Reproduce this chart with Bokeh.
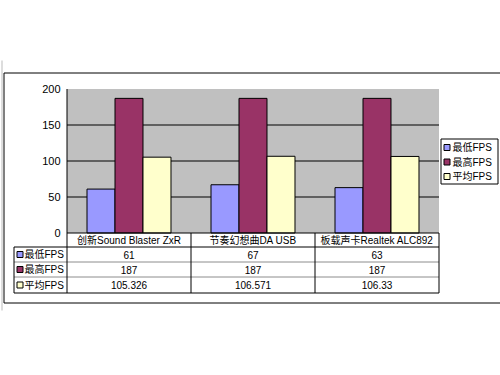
from bokeh.plotting import figure
from bokeh.models import Range1d
from bokeh.core.properties import value
from bokeh.embed import file_html
from bokeh.resources import INLINE

# ---------------- data ----------------
categories = ["创新Sound Blaster ZxR", "节奏幻想曲DA USB", "板载声卡Realtek ALC892"]
series = ["最低FPS", "最高FPS", "平均FPS"]
min_fps = [61, 67, 63]
max_fps = [187, 187, 187]
avg_fps = [105.326, 106.571, 106.33]
y_ticks = [0, 50, 100, 150, 200]
grid_ticks = [50, 100, 150]
colors = ["#9999FF", "#993366", "#FFFFCC"]
series_values = [min_fps, max_fps, avg_fps]

# ---------------- layout (pixels) ----------------
W, H = 500, 375
PX_LEFT = 66.5      # plot-area left edge
CAT_W = 124.0       # pixels per category
PX_ZERO = 232.5     # pixel row of value 0
PX_PER_UNIT = 0.72  # pixels per FPS unit


def xd(px):
    return (px - PX_LEFT) / CAT_W


def yd(py):
    return (PX_ZERO - py) / PX_PER_UNIT


FONT = value("Liberation Sans, Noto Sans CJK SC, sans-serif")
FS = "10px"

p = figure(width=W, height=H, output_backend="svg", toolbar_location=None,
           x_range=Range1d(xd(0), xd(W)), y_range=Range1d(yd(H), yd(0)),
           min_border=0, min_border_left=0, min_border_right=0,
           min_border_top=0, min_border_bottom=0)
p.axis.visible = False
p.grid.visible = False
p.outline_line_color = None
p.background_fill_color = "white"
p.border_fill_color = "white"

n = len(categories)
ymax = y_ticks[-1]

# plot area background
p.quad(left=[0], right=[n], bottom=[0], top=[ymax], fill_color="#C0C0C0", line_color=None)

# gridlines
p.segment(x0=[0] * len(grid_ticks), x1=[n] * len(grid_ticks), y0=grid_ticks, y1=grid_ticks,
          line_color="black", line_width=1)

# bars
bw = 0.2258
for i, (s, vals, c) in enumerate(zip(series, series_values, colors)):
    xs = [j + 0.5 + (i - 1) * bw for j in range(n)]
    p.vbar(x=xs, width=bw, bottom=0, top=vals, fill_color=c, line_color="black", line_width=1)

# y axis line and tick labels
p.segment(x0=[0], x1=[0], y0=[0], y1=[ymax], line_color="black", line_width=1)
p.text(x=[xd(60)] * len(y_ticks), y=y_ticks, text=[str(t) for t in y_ticks],
       text_font=FONT, text_font_size="11px", text_align="right", text_baseline="middle",
       text_color="black")

# ---------------- data table ----------------
row_px = [232.5, 246.5, 261.5, 276.5, 292.5]
row_y = [yd(v) for v in row_px]
lab_left = xd(13.5)

# horizontal lines
p.segment(x0=[0], x1=[n], y0=[row_y[0]], y1=[row_y[0]], line_color="black")
p.segment(x0=[lab_left, lab_left], x1=[n, n], y0=[row_y[1], row_y[4]], y1=[row_y[1], row_y[4]],
          line_color="black")
p.segment(x0=[lab_left, lab_left], x1=[n, n], y0=[row_y[2], row_y[3]], y1=[row_y[2], row_y[3]],
          line_color="#8C8C8C")
# vertical lines
p.segment(x0=[lab_left], x1=[lab_left], y0=[row_y[1]], y1=[row_y[4]], line_color="black")
p.segment(x0=list(range(n + 1)), x1=list(range(n + 1)), y0=[row_y[0]] * (n + 1),
          y1=[row_y[4]] * (n + 1), line_color="black")

# header
hdr_y = (row_y[0] + row_y[1]) / 2
p.text(x=[j + 0.5 for j in range(n)], y=[hdr_y] * n, text=categories, text_font=FONT,
       text_font_size=FS, text_align="center", text_baseline="middle", text_color="black")

# rows
for i, (s, vals, c) in enumerate(zip(series, series_values, colors)):
    cy = (row_y[i + 1] + row_y[i + 2]) / 2
    p.text(x=[j + 0.5 for j in range(n)], y=[cy] * n, text=[str(v) for v in vals], text_font=FONT,
           text_font_size=FS, text_align="center", text_baseline="middle", text_color="black")
    p.quad(left=[xd(16.5)], right=[xd(22.5)], bottom=[cy - 3 / PX_PER_UNIT], top=[cy + 3 / PX_PER_UNIT],
           fill_color=c, line_color="black", line_width=1)
    p.text(x=[xd(24)], y=[cy], text=[s], text_font=FONT, text_font_size=FS,
           text_align="left", text_baseline="middle", text_color="black")

# ---------------- legend ----------------
p.quad(left=[xd(440.5)], right=[xd(497.5)], bottom=[yd(183.5)], top=[yd(138.5)],
       fill_color="white", line_color="black", line_width=1)
leg_rows_px = [147, 161.5, 176]
for s, c, rpx in zip(series, colors, leg_rows_px):
    p.quad(left=[xd(443.5)], right=[xd(449.5)], bottom=[yd(rpx + 3)], top=[yd(rpx - 3)],
           fill_color=c, line_color="black", line_width=1)
    p.text(x=[xd(452)], y=[yd(rpx)], text=[s], text_font=FONT, text_font_size=FS,
           text_align="left", text_baseline="middle", text_color="black")

# ---------------- outer chart border ----------------
p.segment(x0=[xd(1.5)], x1=[xd(1.5)], y0=[yd(60)], y1=[yd(310)], line_color="#BBBBBB")
p.segment(x0=[xd(3.5)], x1=[xd(3.5)], y0=[yd(72.5)], y1=[yd(302.5)], line_color="black")
p.segment(x0=[xd(3.5), xd(3.5)], x1=[xd(W), xd(W)], y0=[yd(72.5), yd(302.5)], y1=[yd(72.5), yd(302.5)],
          line_color="black")

open("out.html", "w").write(file_html(p, INLINE))
